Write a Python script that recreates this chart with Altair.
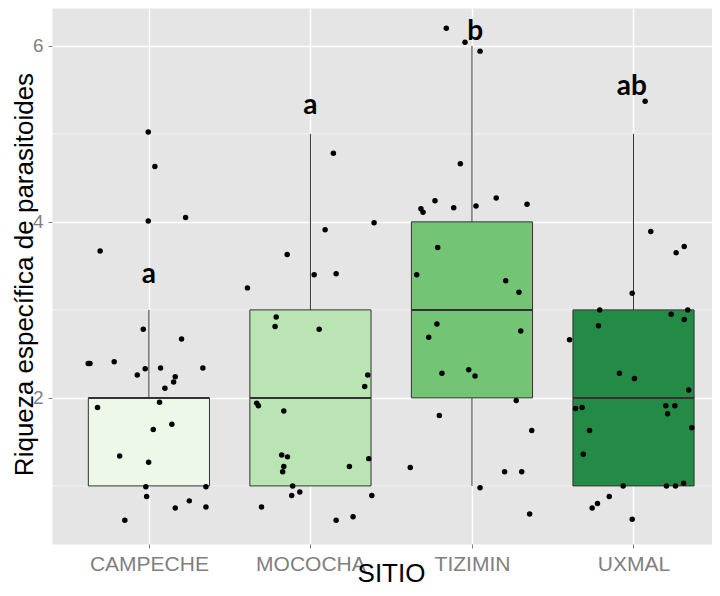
import json
import altair as alt
import pandas as pd

# ---------------- data ----------------
sites = ["CAMPECHE", "MOCOCHA", "TIZIMIN", "UXMAL"]
box_fill = ["#EDF8E9", "#BAE4B3", "#74C476", "#238B45"]
whisker_low = [1, 1, 1, 1]
q1 = [1, 1, 2, 1]
median = [2, 2, 3, 2]
q3 = [2, 3, 4, 3]
whisker_high = [3, 5, 6, 5]

letters = ["a", "a", "b", "ab"]
letter_y = [3.31, 5.22, 6.07, 5.44]
letter_dx = [0.0, 0.0, 0.02, -0.01]

campeche_y = [5.02, 4.63, 4.01, 4.05, 3.67, 2.78, 2.67, 2.39, 2.39, 2.41,
              2.26, 2.33, 2.34, 2.24, 2.18, 2.34, 2.11, 1.95, 1.89, 1.70,
              1.64, 1.34, 1.27, 0.99, 0.99, 0.88, 0.83, 0.75, 0.76, 0.61]
campeche_dx = [-0.004, 0.037, -0.004, 0.227, -0.302, -0.035, 0.202, -0.376, -0.365, -0.215,
               -0.072, -0.023, 0.072, 0.163, 0.153, 0.334, 0.099, 0.066, -0.318, 0.142,
               0.027, -0.181, -0.002, -0.019, 0.353, -0.014, 0.250, 0.163, 0.353, -0.149]

mococha_y = [4.78, 3.99, 3.91, 3.63, 3.40, 3.41, 3.25, 2.92, 2.81, 2.78,
             2.26, 2.13, 1.94, 1.91, 1.85, 1.35, 1.33, 1.31, 1.22, 1.16,
             1.22, 1.00, 0.89, 0.93, 0.89, 0.76, 0.61, 0.65]
mococha_dx = [0.142, 0.394, 0.091, -0.144, 0.023, 0.159, -0.390, -0.212, -0.219, 0.054,
              0.355, 0.336, -0.333, -0.322, -0.165, -0.178, -0.142, 0.361, -0.165, -0.172,
              0.241, -0.110, -0.116, -0.066, 0.380, -0.303, 0.159, 0.264]

tizimin_y = [6.20, 6.04, 5.94, 4.66, 4.24, 4.15, 4.11, 4.16, 4.18, 4.27,
             4.20, 3.71, 3.40, 3.33, 3.20, 2.84, 2.76, 2.69, 2.28, 2.32,
             2.25, 1.97, 1.80, 1.63, 1.21, 1.16, 1.16, 0.98, 0.68]
tizimin_dx = [-0.159, -0.043, 0.050, -0.072, -0.229, -0.316, -0.303, -0.113, 0.025, 0.150,
              0.341, -0.212, -0.342, 0.209, 0.291, -0.217, 0.302, -0.268, -0.186, -0.020,
              0.019, 0.274, -0.202, 0.370, -0.382, 0.202, 0.308, 0.050, 0.357]

uxmal_y = [5.37, 3.89, 3.72, 3.65, 3.19, 3.00, 3.00, 2.95, 2.89, 2.82,
           2.66, 2.28, 2.22, 2.09, 1.88, 1.89, 1.91, 1.91, 1.82, 1.66,
           1.63, 1.36, 1.00, 1.00, 1.00, 1.03, 0.88, 0.80, 0.75, 0.62]
uxmal_dx = [0.072, 0.107, 0.314, 0.264, -0.008, -0.209, 0.336, 0.233, 0.314, -0.217,
            -0.396, -0.087, 0.006, 0.342, -0.359, -0.318, 0.200, 0.256, 0.211, 0.361,
            -0.272, -0.311, -0.064, 0.204, 0.260, 0.310, -0.150, -0.223, -0.256, -0.008]

y_ticks = [2, 4, 6]
y_minor = [1, 3, 5]

# ---------------- tables ----------------
box_df = pd.DataFrame({
    "site": sites,
    "pos": list(range(1, len(sites) + 1)),
    "lo": whisker_low, "q1": q1, "med": median, "q3": q3, "hi": whisker_high,
})

pts_rows = []
for i, (ys, dxs) in enumerate([(campeche_y, campeche_dx), (mococha_y, mococha_dx),
                               (tizimin_y, tizimin_dx), (uxmal_y, uxmal_dx)]):
    for yv, dx in zip(ys, dxs):
        pts_rows.append({"site": sites[i], "x": i + 1 + dx, "y": yv})
pts_df = pd.DataFrame(pts_rows)

let_df = pd.DataFrame({
    "site": sites,
    "x": [i + 1 + d for i, d in enumerate(letter_dx)],
    "y": letter_y,
    "label": letters,
})
minor_df = pd.DataFrame({"y": y_minor})

# ---------------- scales & axes ----------------
FONT = "Liberation Sans"
x_scale = alt.Scale(domain=[0.4, 4.486], nice=False, zero=False)
y_scale = alt.Scale(domain=[0.34, 6.43], nice=False, zero=False)

label_expr = json.dumps(sites) + "[datum.value - 1]"
x_axis = alt.Axis(
    values=list(range(1, len(sites) + 1)), labelExpr=label_expr, title="SITIO",
    domain=False, grid=True, gridColor="white", gridWidth=1.5,
    tickColor="#7F7F7F", tickSize=4, tickWidth=1,
    labelColor="#7F7F7F", labelFont=FONT, labelFontSize=21, labelPadding=5,
    titleFont=FONT, titleFontSize=26, titleFontWeight="normal", titleColor="black",
    titleX=339, titleY=37, titleBaseline="alphabetic", titleAlign="center",
)
y_axis = alt.Axis(
    values=y_ticks, title="Riqueza específica de parasitoides", format="d",
    domain=False, grid=True, gridColor="white", gridWidth=1.5,
    tickColor="#7F7F7F", tickSize=4, tickWidth=1,
    labelColor="#7F7F7F", labelFont=FONT, labelFontSize=19, labelPadding=5,
    titleFont=FONT, titleFontSize=26, titleFontWeight="normal", titleColor="black",
    titleX=-20, titleY=266, titleBaseline="alphabetic", titleAlign="center", titleAngle=270,
)

def X(field):
    return alt.X(field, type="quantitative", scale=x_scale, axis=x_axis)

def Y(field):
    return alt.Y(field, type="quantitative", scale=y_scale, axis=y_axis)

# ---------------- layers ----------------
minor = alt.Chart(minor_df).mark_rule(color="#F2F2F2", strokeWidth=1).encode(y=Y("y"))

whisk = alt.Chart(box_df).mark_rule(color="#333333", strokeWidth=1).encode(
    x=X("pos"), y=Y("lo"), y2="hi"
)

boxes = alt.Chart(box_df).transform_calculate(
    xl="datum.pos - 0.375", xr="datum.pos + 0.375"
).mark_bar(stroke="#333333", strokeWidth=1, opacity=1).encode(
    x=X("xl"), x2="xr", y=Y("q1"), y2="q3",
    fill=alt.Fill("site:N", scale=alt.Scale(domain=sites, range=box_fill), legend=None),
)

med = alt.Chart(box_df).transform_calculate(
    xl="datum.pos - 0.375", xr="datum.pos + 0.375"
).mark_rule(color="#333333", strokeWidth=2).encode(
    x=X("xl"), x2="xr", y=Y("med")
)

points = alt.Chart(pts_df).mark_circle(size=30, color="black", opacity=1).encode(
    x=X("x"), y=Y("y")
)

texts = alt.Chart(let_df).mark_text(
    font="Lato", fontWeight="bold", fontSize=28, color="black",
    align="center", baseline="alphabetic"
).encode(x=X("x"), y=Y("y"), text="label:N")

chart = alt.layer(minor, whisk, boxes, med, points, texts).properties(
    width=660, height=536,
    autosize=alt.AutoSizeParams(type="none"),
    padding={"left": 44, "top": 0, "right": 0, "bottom": 44},
).configure_view(fill="#E5E5E5", stroke="transparent")

chart.save("out.html", embed_options={"renderer": "svg", "actions": False})
